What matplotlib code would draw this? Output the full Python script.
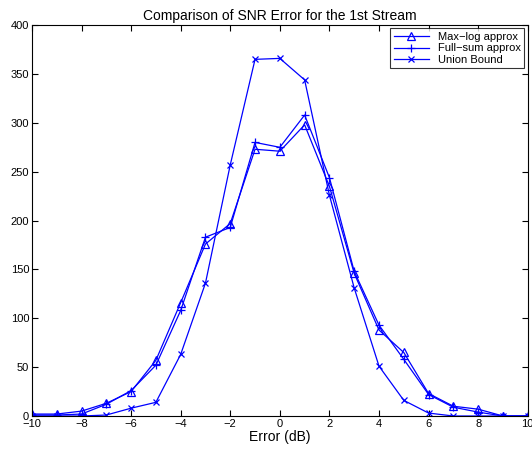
import matplotlib
matplotlib.use("Agg")
import matplotlib.pyplot as plt
import numpy as np

# data
err_db = np.arange(-10, 11)
maxlog = [2, 2, 5, 13, 25, 57, 116, 176, 197, 273, 271, 298, 235, 146, 88, 65, 23, 10, 7, 0, 0]
fullsum = [1, 1, 2, 12, 26, 52, 108, 183, 193, 280, 275, 308, 244, 148, 93, 58, 22, 9, 4, 0, 0]
union = [0, 0, 0, 1, 8, 14, 63, 136, 257, 365, 366, 344, 226, 131, 51, 16, 3, 0, 0, 0, 0]

plt.rcParams['font.family'] = ['Liberation Sans', 'DejaVu Sans']
fig = plt.figure(figsize=(5.32, 4.55), dpi=100)
ax = fig.add_axes([0.06, 0.0857, 0.932, 0.859])

ax.plot(err_db, maxlog, color='b', lw=0.9, marker='^', ms=6, mfc='none', mew=0.9, label='Max\u2212log approx')
ax.plot(err_db, fullsum, color='b', lw=0.9, marker='+', ms=6, mew=0.9, label='Full\u2212sum approx')
ax.plot(err_db, union, color='b', lw=0.9, marker='x', ms=4, mew=0.9, label='Union Bound')

ax.set_xlim(-10, 10)
ax.set_ylim(0, 400)
ax.set_xticks(np.arange(-10, 11, 2))
ax.set_yticks(np.arange(0, 401, 50))
ax.set_xticklabels([str(v).replace('-', '\u2212') for v in range(-10, 11, 2)])
ax.tick_params(direction='in', top=True, right=True, labelsize=8, length=4, pad=2)
for s in ax.spines.values():
    s.set_linewidth(0.8)

ax.set_xlabel('Error (dB)', fontsize=10, labelpad=1)
ax.set_title('Comparison of SNR Error for the 1st Stream', fontsize=10, pad=4)

leg = ax.legend(loc='upper right', fontsize=8, fancybox=False, edgecolor='k',
                borderaxespad=0.3, handlelength=3.2, labelspacing=0.15, borderpad=0.3)
leg.get_frame().set_linewidth(0.8)

fig.savefig('out.png', dpi=100)
